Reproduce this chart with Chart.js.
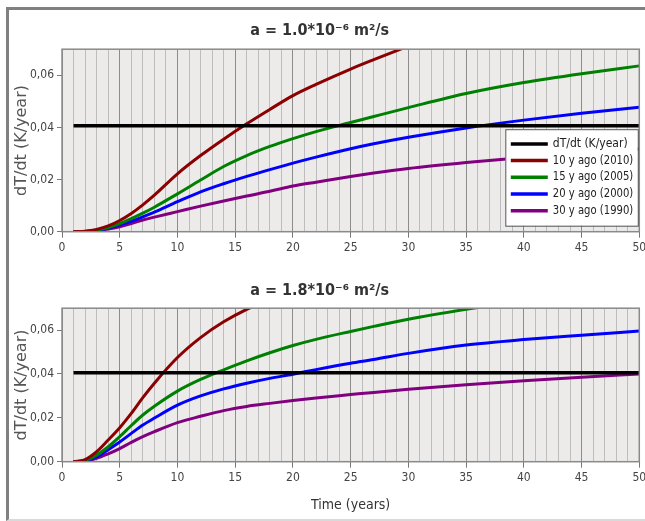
<!DOCTYPE html>
<html lang="en">
<head>
<meta charset="UTF-8">
<title>dT/dt response</title>
<script src="https://cdn.jsdelivr.net/npm/chart.js"></script>
<style>
    html, body { margin: 0; padding: 0; background: #fff; overflow: hidden; }
    body { width: 645px; height: 521px; position: relative; }
    .frame {
        position: absolute; left: 6px; top: 7px; width: 700px; height: 509px;
        border-left: 3px solid #808080; border-top: 3px solid #808080; border-bottom: 2px solid #d9d9d9;
    }
    .plot { position: absolute; left: 0; width: 656px; }
    #topWrap { top: 0; height: 260px; }
    #botWrap { top: 260px; height: 261px; }
</style>
</head>
<body>
<div class="frame"></div>
<div class="plot" id="topWrap"><canvas id="topChart"></canvas></div>
<div class="plot" id="botWrap"><canvas id="botChart"></canvas></div>

<script>
// time axis (years) shared by all curves
const years = [1, 2, 3, 4, 5, 6, 7, 8, 10, 12, 14, 16, 18, 20, 22, 25, 27, 30, 35, 40, 45, 50];

// a = 1.0e-6 m2/s
const top10 = [0, 0.0002, 0.0009, 0.0022, 0.0043, 0.0070, 0.0103, 0.0140, 0.0222, 0.0292, 0.0355, 0.0414, 0.0469, 0.0522, 0.0565, 0.0624, 0.0660, 0.0712, null, null, null, null];
const top15 = [0, 0.0001, 0.0006, 0.0016, 0.0031, 0.0050, 0.0071, 0.0094, 0.0145, 0.0198, 0.0250, 0.0292, 0.0327, 0.0357, 0.0384, 0.0419, 0.0442, 0.0476, 0.0530, 0.0572, 0.0606, 0.0636];
const top20 = [0, 0.0001, 0.0005, 0.0013, 0.0026, 0.0040, 0.0057, 0.0075, 0.0115, 0.0153, 0.0184, 0.0212, 0.0238, 0.0263, 0.0286, 0.0318, 0.0337, 0.0362, 0.0398, 0.0428, 0.0454, 0.0477];
const top30 = [0, 0.0000, 0.0004, 0.0010, 0.0019, 0.0031, 0.0045, 0.0056, 0.0077, 0.0098, 0.0118, 0.0137, 0.0155, 0.0175, 0.0190, 0.0212, 0.0225, 0.0242, 0.0265, 0.0285, 0.0302, 0.0317];

// a = 1.8e-6 m2/s
const bot10 = [0, 0.0010, 0.0046, 0.0099, 0.0155, 0.0220, 0.0292, 0.0358, 0.0475, 0.0566, 0.0638, 0.0695, 0.0740, null, null, null, null, null, null, null, null, null];
const bot15 = [0, 0.0006, 0.0030, 0.0068, 0.0114, 0.0165, 0.0213, 0.0253, 0.0322, 0.0375, 0.0419, 0.0460, 0.0497, 0.0530, 0.0558, 0.0594, 0.0617, 0.0650, 0.0695, 0.0735, null, null];
const bot20 = [0, 0.0004, 0.0023, 0.0055, 0.0090, 0.0129, 0.0167, 0.0199, 0.0258, 0.0300, 0.0332, 0.0358, 0.0380, 0.0399, 0.0420, 0.0449, 0.0466, 0.0494, 0.0532, 0.0557, 0.0577, 0.0596];
const bot30 = [0, 0.0002, 0.0015, 0.0036, 0.0060, 0.0088, 0.0114, 0.0137, 0.0178, 0.0207, 0.0233, 0.0252, 0.0266, 0.0279, 0.0291, 0.0306, 0.0316, 0.0330, 0.0351, 0.0369, 0.0385, 0.0400];

// observed warming rate (horizontal reference)
const refYears = [1, 50];
const refRate = [0.0406, 0.0406];

const labels = ['dT/dt (K/year)', '10 y ago (2010)', '15 y ago (2005)', '20 y ago (2000)', '30 y ago (1990)'];
const colors = ['#000000', '#8b0000', '#008000', '#0000ff', '#800080'];
const yTicks = [0, 0.02, 0.04, 0.06];

const narrow = '"DejaVu Sans Condensed", "DejaVu Sans", sans-serif';
const wide = '"DejaVu Sans", sans-serif';

function pts(xs, ys) {
    return xs.map((x, i) => ({ x: x, y: ys[i] }));
}

const plotBack = {
    id: 'plotBack',
    beforeDraw(chart) {
        const { ctx, chartArea: a } = chart;
        ctx.save();
        ctx.fillStyle = '#ecebea';
        ctx.fillRect(a.left, a.top, a.right - a.left, a.bottom - a.top);
        ctx.restore();
    },
    afterDraw(chart) {
        const { ctx, chartArea: a } = chart;
        ctx.save();
        ctx.strokeStyle = '#8a8a8a';
        ctx.lineWidth = 1.5;
        ctx.strokeRect(a.left, a.top, a.right - a.left, a.bottom - a.top);
        ctx.restore();
    }
};

// legend sits inside the plot, lower right
const legendBox = {
    id: 'legendBox',
    afterDraw(chart, args, opts) {
        if (!opts.show) return;
        const { ctx, chartArea: a } = chart;
        const w = 132.5, h = 96.5;
        const x0 = a.right - w - 1.5, y0 = a.top + 80;
        ctx.save();
        ctx.fillStyle = '#fff';
        ctx.fillRect(x0, y0, w, h);
        ctx.strokeStyle = '#555';
        ctx.lineWidth = 1;
        ctx.strokeRect(x0 + 0.5, y0 + 0.5, w, h);
        ctx.font = '12px ' + narrow;
        ctx.textBaseline = 'middle';
        chart.data.datasets.forEach((ds, i) => {
            const y = y0 + 14.7 + i * 16.7;
            ctx.strokeStyle = ds.borderColor;
            ctx.lineWidth = 3.5;
            ctx.beginPath();
            ctx.moveTo(x0 + 5.5, y);
            ctx.lineTo(x0 + 42.5, y);
            ctx.stroke();
            ctx.fillStyle = '#222';
            ctx.fillText(ds.label, x0 + 47.5, y, w - 52);
        });
        ctx.restore();
    }
};

function makeChart(id, title, series, o) {
    const all = [pts(refYears, refRate)].concat(series.map(s => pts(years, s)));
    return new Chart(document.getElementById(id), {
        type: 'line',
        data: {
            datasets: all.map((d, i) => ({
                label: labels[i],
                data: d,
                borderColor: colors[i],
                backgroundColor: colors[i],
                borderWidth: i === 0 ? 3.5 : 3,
                pointRadius: 0,
                cubicInterpolationMode: 'monotone',
                spanGaps: false,
                clip: 0
            }))
        },
        options: {
            responsive: true,
            maintainAspectRatio: false,
            animation: false,
            layout: { padding: { left: 0, right: 16.7, top: 0, bottom: 0 } },
            plugins: {
                legend: { display: false },
                tooltip: { enabled: false },
                title: {
                    display: true,
                    text: title,
                    color: '#333',
                    font: { family: narrow, size: 16, weight: 'bold' },
                    padding: o.titlePad
                },
                legendBox: { show: o.legend }
            },
            scales: {
                x: {
                    type: 'linear',
                    min: 0,
                    max: 50,
                    afterFit: s => { s.height = o.xHeight; },
                    ticks: {
                        stepSize: 1,
                        autoSkip: false,
                        maxRotation: 0,
                        color: '#444',
                        font: { family: narrow, size: 12 },
                        callback: v => (v % 5 === 0 ? v : '')
                    },
                    grid: {
                        color: c => (c.tick && c.tick.value % 5 === 0 ? '#8c8c8c' : '#bdbdbd'),
                        tickColor: c => (c.tick && c.tick.value % 5 === 0 ? '#777' : 'rgba(0,0,0,0)'),
                        tickLength: 6,
                        lineWidth: 1
                    },
                    border: { display: false },
                    title: {
                        display: o.xTitle,
                        text: 'Time (years)',
                        color: '#333',
                        font: { family: narrow, size: 14 },
                        padding: { top: 4, bottom: 7.6 }
                    }
                },
                y: {
                    min: 0,
                    max: 0.07,
                    afterFit: s => { s.width = 62; },
                    afterBuildTicks: s => { s.ticks = yTicks.map(v => ({ value: v })); },
                    ticks: {
                        color: '#444',
                        padding: 3,
                        font: { family: narrow, size: 12 },
                        callback: v => v.toFixed(2).replace('.', ',')
                    },
                    grid: { drawOnChartArea: false, tickLength: 5, tickColor: '#777' },
                    border: { display: false },
                    title: {
                        display: true,
                        text: 'dT/dt (K/year)',
                        color: '#555',
                        font: { family: wide, size: 16 },
                        padding: { top: 12.4, bottom: 0 }
                    }
                }
            }
        },
        plugins: [plotBack, legendBox]
    });
}

makeChart('topChart', 'a = 1.0*10⁻⁶ m²/s', [top10, top15, top20, top30],
    { titlePad: { top: 21, bottom: 9 }, xHeight: 28.3, xTitle: false, legend: true });
makeChart('botChart', 'a = 1.8*10⁻⁶ m²/s', [bot10, bot15, bot20, bot30],
    { titlePad: { top: 21, bottom: 8 }, xHeight: 59.3, xTitle: true, legend: false });
</script>
</body>
</html>
